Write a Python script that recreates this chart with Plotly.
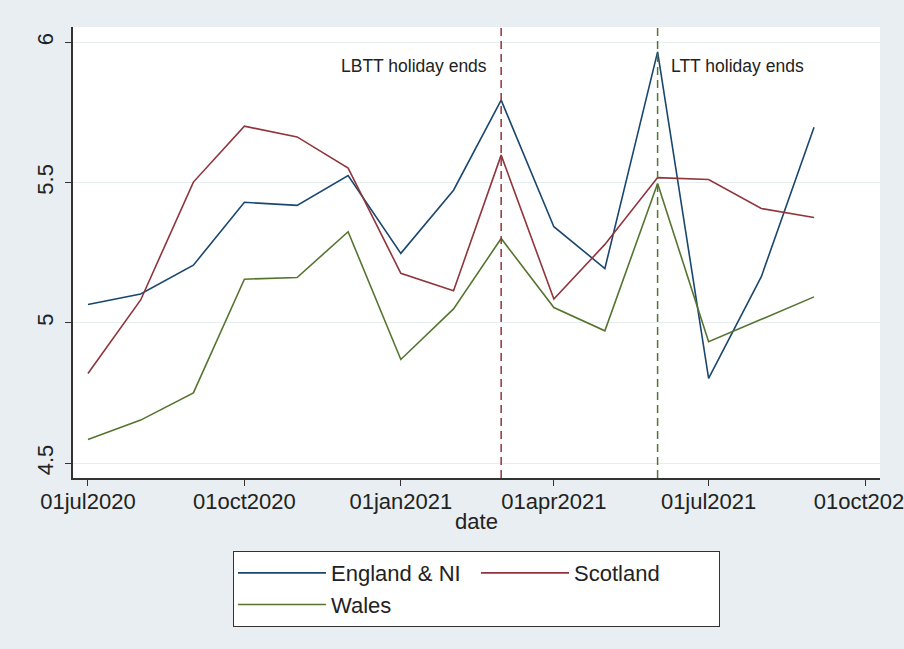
import plotly.graph_objects as go

# Monthly series, July 2020 to September 2021
dates = ["2020-07-01", "2020-08-01", "2020-09-01", "2020-10-01", "2020-11-01",
         "2020-12-01", "2021-01-01", "2021-02-01", "2021-03-01", "2021-04-01",
         "2021-05-01", "2021-06-01", "2021-07-01", "2021-08-01", "2021-09-01"]

england_ni = [5.066, 5.103, 5.206, 5.430, 5.419, 5.525, 5.248, 5.473, 5.794,
              5.343, 5.194, 5.966, 4.803, 5.165, 5.697]
scotland = [4.820, 5.082, 5.502, 5.701, 5.663, 5.552, 5.177, 5.115, 5.598,
            5.085, 5.280, 5.518, 5.511, 5.408, 5.376]
wales = [4.585, 4.654, 4.751, 5.156, 5.162, 5.325, 4.870, 5.050, 5.301,
         5.055, 4.972, 5.497, 4.933, 5.013, 5.093]

# Policy events marked on the chart
event_dates = ["2021-03-01", "2021-06-01"]
event_labels = ["LBTT holiday ends", "LTT holiday ends"]

# Axis ticks
x_tickvals = ["2020-07-01", "2020-10-01", "2021-01-01", "2021-04-01",
              "2021-07-01", "2021-10-01"]
x_ticktext = ["01jul2020", "01oct2020", "01jan2021", "01apr2021",
              "01jul2021", "01oct2021"]
y_tickvals = [4.5, 5, 5.5, 6]
y_ticktext = ["4.5", "5", "5.5", "6"]

NAVY = "#1a476f"
MAROON = "#90353b"
GREEN = "#55752f"
BG = "#e8eef1"
AXIS = "#333333"
FONT = "Liberation Sans, Arial, sans-serif"

fig = go.Figure()
fig.add_trace(go.Scatter(x=dates, y=england_ni, mode="lines", name="England & NI",
                         line=dict(color=NAVY, width=1.6), legendgroup="a"))
fig.add_trace(go.Scatter(x=dates, y=wales, mode="lines", name="Wales",
                         line=dict(color=GREEN, width=1.6), legendgroup="a"))
fig.add_trace(go.Scatter(x=dates, y=scotland, mode="lines", name="Scotland",
                         line=dict(color=MAROON, width=1.6), legendgroup="b"))

# Dashed vertical markers and their labels
event_colors = [MAROON, GREEN]
label_side = [("right", -12), ("left", 11)]
for d, lab, col, (anchor, shift) in zip(event_dates, event_labels, event_colors, label_side):
    fig.add_shape(type="line", xref="x", yref="paper", x0=d, x1=d, y0=0, y1=1,
                  line=dict(color=col, width=1.5, dash="8px,5px"), layer="above")
    fig.add_annotation(x=d, xref="x", y=0.9135, yref="paper", text=lab,
                       showarrow=False, xanchor=anchor, yanchor="middle", xshift=shift,
                       font=dict(family=FONT, size=17.5, color="#222222"))

fig.update_layout(
    width=904, height=649,
    margin=dict(l=73, r=24, t=27, b=171),
    paper_bgcolor=BG, plot_bgcolor="white",
    font=dict(family=FONT, size=22, color="#222222"),
    showlegend=True,
    legend=dict(
        orientation="h", traceorder="grouped", tracegroupgap=0,
        x=0.5, xanchor="center", y=-0.162, yanchor="top",
        bgcolor="white", bordercolor=AXIS, borderwidth=1,
        font=dict(family=FONT, size=22, color="#222222"),
        itemwidth=88, entrywidth=140,
    ),
)

fig.update_xaxes(
    type="date", range=["2020-06-22 05:00", "2021-10-09 19:00"],
    tickmode="array", tickvals=x_tickvals, ticktext=x_ticktext,
    ticks="outside", ticklen=6, tickwidth=1.2, tickcolor=AXIS,
    showline=True, linecolor=AXIS, linewidth=1.5, mirror=False,
    showgrid=False, zeroline=False, automargin=False,
    title=dict(text="date", standoff=0, font=dict(family=FONT, size=22)),
    tickfont=dict(family=FONT, size=22),
    ticklabeloverflow="allow",
    ticklabelstandoff=-3,
)
fig.update_yaxes(
    range=[4.4477, 6.0545],
    tickmode="array", tickvals=y_tickvals, ticktext=y_ticktext,
    tickangle=-90,
    ticks="outside", ticklen=6, tickwidth=1.2, tickcolor=AXIS,
    showline=True, linecolor=AXIS, linewidth=1.5, mirror=False,
    showgrid=True, gridcolor="#e7eef0", gridwidth=1, zeroline=False,
    automargin=False,
    tickfont=dict(family=FONT, size=22),
    ticklabelstandoff=3,
)

fig.write_html("out.html")
